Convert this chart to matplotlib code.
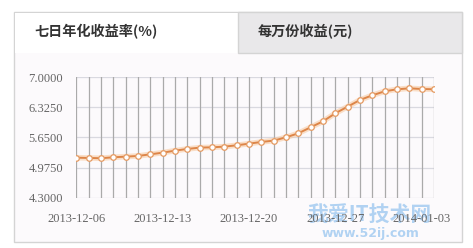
import matplotlib.pyplot as plt
from matplotlib.patches import Rectangle

# seven-day annualised yield, one point per day from 2013-12-06
dates = ["2013-12-%02d" % d for d in range(6, 32)] + ["2014-01-%02d" % d for d in range(1, 5)]
yield_7d = [5.198, 5.191, 5.185, 5.206, 5.221, 5.236, 5.273, 5.310, 5.355, 5.393,
            5.423, 5.430, 5.445, 5.475, 5.512, 5.550, 5.580, 5.654, 5.744, 5.879,
            6.013, 6.193, 6.342, 6.492, 6.596, 6.686, 6.731, 6.753, 6.738, 6.731]
y_ticks = [4.3, 4.975, 5.65, 6.325, 7.0]
x_label_idx = [0, 7, 14, 21, 28]
tab_titles = ["七日年化收益率(%)", "每万份收益(元)"]

W, H = 473, 248
fig = plt.figure(figsize=(W / 100, H / 100), dpi=100)
fig.patch.set_facecolor("white")

# panel frame and tabs, drawn in pixel coords
bg = fig.add_axes([0, 0, 1, 1])
bg.set_xlim(0, W)
bg.set_ylim(H, 0)
bg.axis("off")
bg.add_patch(Rectangle((14, 12), 448, 230, facecolor="#fcfafc", edgecolor="#d4d4d4", lw=1))
bg.add_patch(Rectangle((14.5, 12.5), 223.5, 40, facecolor="white", edgecolor="none"))
bg.add_patch(Rectangle((238, 12), 224, 40.5, facecolor="#e9e8ea", edgecolor="#d4d4d4", lw=1))
cjk = ["Noto Sans CJK SC", "DejaVu Sans"]
bg.text(34, 32, tab_titles[0], fontsize=10.2, fontweight="bold", color="#333333",
        va="center", family=cjk)
bg.text(258, 32, tab_titles[1], fontsize=10.2, fontweight="bold", color="#333333",
        va="center", family=cjk)

ax = fig.add_axes([76.3 / W, 1 - 197.7 / H, (434 - 76.3) / W, (197.7 - 77.3) / H])
ax.set_facecolor("none")
x = list(range(len(yield_7d)))
ax.set_xlim(0, len(x) - 1)
ax.set_ylim(4.3, 7.0)
for i in x:
    ax.axvline(i, color="#aaaaaa", lw=0.9, zorder=1)
for v in y_ticks:
    ax.axhline(v, color="#d9d9e0", lw=0.9, zorder=0.5)

ax.plot(x, yield_7d, color="#f8c79c", lw=4, alpha=0.55, zorder=2, solid_capstyle="round")
ax.plot(x, yield_7d, color="#dd8548", lw=1.4, zorder=3, marker="o", markersize=4,
        markerfacecolor="white", markeredgecolor="#e59a62", markeredgewidth=0.9)

for s in ax.spines.values():
    s.set_visible(False)
ax.set_yticks(y_ticks)
ax.set_yticklabels(["%.4f" % v for v in y_ticks])
ax.set_xticks(x_label_idx)
ax.set_xticklabels([dates[i] for i in x_label_idx])
ax.tick_params(length=0, colors="#666666", labelsize=9)
ax.tick_params(axis="y", pad=9.5)
ax.tick_params(axis="x", pad=11)
for lab in ax.get_xticklabels() + ax.get_yticklabels():
    lab.set_family("Liberation Serif")

# site watermark
bg.text(370, 214, "我爱IT技术网", fontsize=15, fontweight="bold", color="#7fb8ec", alpha=0.6,
        ha="center", va="center", family=cjk)
bg.text(370, 233, "www.52ij.com", fontsize=9, fontweight="bold", color="#7fb8ec", alpha=0.6,
        ha="center", va="center")

fig.savefig("out.png", dpi=100, facecolor="white")
